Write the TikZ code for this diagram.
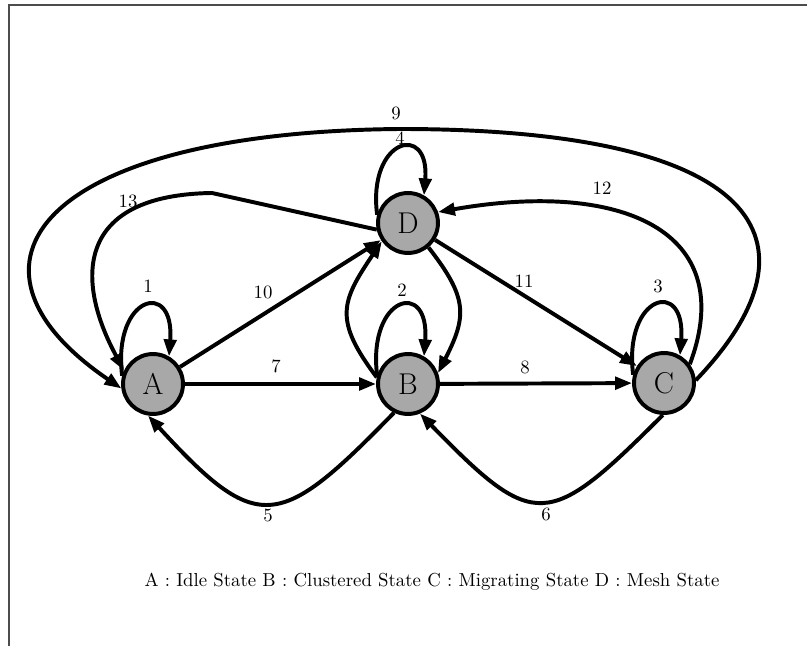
\documentclass[tikz,border=0pt]{standalone}
\usetikzlibrary{arrows.meta}
\definecolor{stfill}{RGB}{168,168,168}
\begin{document}
\begin{tikzpicture}[x=0.5322pt,y=-0.5322pt,
  state/.style={circle,draw,fill=stfill,line width=2.1pt,minimum size=31.9pt,
    inner sep=0pt,font=\fontsize{16}{19}\selectfont},
  trans/.style={line width=2.1pt,-{Triangle[length=9pt,width=6.6pt]}},
  lab/.style={font=\normalsize,inner sep=0pt},
  frame/.style={line width=0.8pt,draw=black!70}]
\useasboundingbox (0,0) rectangle (807,646);
\draw[frame] (807,5) -- (9,5) -- (9,646);

% states
\node[state] (A) at (153,384) {A};
\node[state] (B) at (408,384) {B};
\node[state] (C) at (664,383) {C};
\node[state] (D) at (408,223) {D};

% self loops
\draw[trans] (A.165) .. controls +(-10,-80) and +(6,-78) .. (A.60);
\draw[trans] (B.165) .. controls +(-10,-80) and +(6,-78) .. (B.60);
\draw[trans] (C.165) .. controls +(-10,-80) and +(6,-78) .. (C.60);
\draw[trans] (D.165) .. controls +(-10,-76) and +(6,-74) .. (D.60);

% straight transitions
\draw[trans] (A) -- (B);
\draw[trans] (B) -- (C);
\draw[trans] (A) -- (D);
\draw[trans] (D) -- (C);

% between B and D
\draw[trans] (B.168) to[out=127,in=236,looseness=1.36] (D.215);
\draw[trans] (D.-50) to[out=-52,in=63,looseness=1.3] (B.20);

% lower arcs
\draw[trans] (B.-116) .. controls +(-115,118) and +(110,120) .. (A.-99);
\draw[trans] (C.-92) .. controls +(-115,115) and +(115,118) .. (B.-68);

% long arcs over the top
\draw[trans] (C.5) .. controls (830,240) and (760,129) .. (400,129)
  .. controls (40,132) and (-60,265) .. (A.188);
\draw[trans] (D.192) -- (212,193) .. controls (75,195) and (75,280) .. (A.155);
\draw[trans] (C.36) .. controls (740,230) and (620,180) .. (D.20);

% transition numbers
\node[lab] (l1) at (148,286) {1};
\node[lab] (l2) at (402,290) {2};
\node[lab] (l3) at (658,286) {3};
\node[lab] (l4) at (400,138) {4};
\node[lab] (l5) at (268,515) {5};
\node[lab] (l6) at (546,514) {6};
\node[lab] (l7) at (276,366) {7};
\node[lab] (l8) at (525,367) {8};
\node[lab] (l9) at (396,113) {9};
\node[lab] (l10) at (263,292) {10};
\node[lab] (l11) at (524,281) {11};
\node[lab] (l12) at (602,188) {12};
\node[lab] (l13) at (128,201) {13};

% legend
\node[lab] (legend) at (432,582) {A : Idle State B : Clustered State C : Migrating State D : Mesh State};
\end{tikzpicture}
\end{document}
